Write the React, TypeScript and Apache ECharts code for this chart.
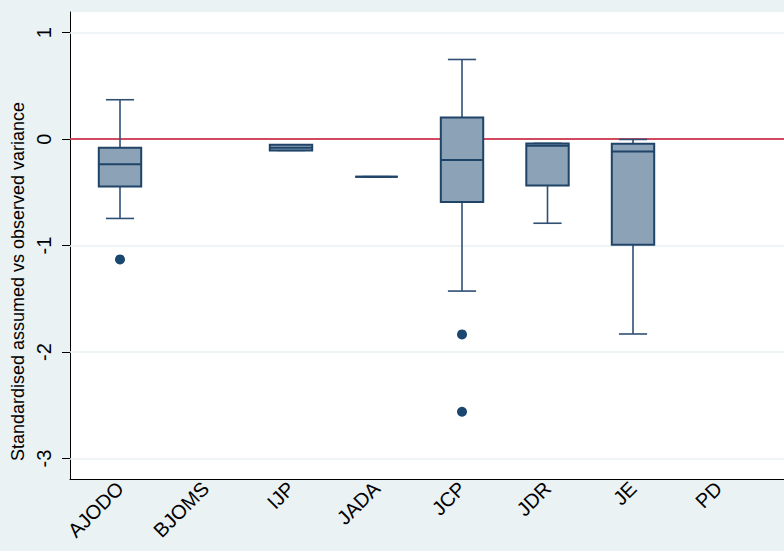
import React, { useEffect, useRef } from "react";
import * as echarts from "echarts";

const categories = ["AJODO", "BJOMS", "IJP", "JADA", "JCP", "JDR", "JE", "PD"];
const whiskerLow = [-0.745, null, -0.106, -0.353, -1.427, -0.79, -1.83, null];
const quartile1 = [-0.444, null, -0.106, -0.353, -0.59, -0.435, -0.992, null];
const medians = [-0.235, null, -0.08, -0.353, -0.197, -0.062, -0.115, null];
const quartile3 = [-0.081, null, -0.053, -0.353, 0.204, -0.04, -0.043, null];
const whiskerHigh = [0.37, null, -0.053, -0.353, 0.748, -0.04, -0.003, null];
const outlierCategory = ["AJODO", "JCP", "JCP"];
const outlierValue = [-1.13, -1.834, -2.56];
const yTicks = [-3, -2, -1, 0, 1];
const referenceLine = 0;
const yTitle = "Standardised assumed vs observed variance";

const NAVY = "#1a476f";
const FONT = "Liberation Sans, Arial, sans-serif";

export default function App() {
  const ref = useRef<HTMLDivElement>(null);
  useEffect(() => {
    if (!ref.current) return;
    const chart = echarts.init(ref.current, undefined, { renderer: "svg" });
    const boxData: number[][] = [];
    categories.forEach((_, i) => {
      if (medians[i] === null) return;
      boxData.push([
        i,
        whiskerLow[i] as number,
        quartile1[i] as number,
        medians[i] as number,
        quartile3[i] as number,
        whiskerHigh[i] as number,
      ]);
    });
    const outlierData = outlierCategory.map((c, k) => [categories.indexOf(c), outlierValue[k]]);

    chart.setOption({
      animation: false,
      backgroundColor: "#eaf2f3",
      grid: {
        left: 70,
        right: 0,
        top: 12,
        bottom: 72,
        show: true,
        backgroundColor: "#ffffff",
        borderWidth: 0,
        containLabel: false,
        outerBoundsMode: "none",
      },
      graphic: [
        {
          type: "text",
          x: 18,
          y: 281.5,
          rotation: Math.PI / 2,
          style: {
            text: yTitle,
            fill: "#000",
            font: `18px ${FONT}`,
            textAlign: "center",
            textVerticalAlign: "middle",
          },
        },
      ],
      xAxis: {
        type: "value",
        min: -0.5848,
        max: 7.766,
        axisLine: { show: true, onZero: false, lineStyle: { color: "#000", width: 1 } },
        axisTick: { show: false },
        splitLine: { show: false },
        axisLabel: {
          customValues: categories.map((_, i) => i),
          formatter: (v: number) => categories[Math.round(v)] ?? "",
          rotate: 45,
          margin: 6,
          color: "#000",
          fontFamily: FONT,
          fontSize: 20,
        },
      },
      yAxis: {
        type: "value",
        min: -3.192,
        max: 1.194,
        axisLine: { show: true, onZero: false, lineStyle: { color: "#000", width: 1 } },
        axisTick: { show: true, length: 8, customValues: yTicks, lineStyle: { color: "#000" } },
        splitLine: { show: false },
        axisLabel: {
          customValues: yTicks,
          rotate: 90,
          margin: 16,
          color: "#000",
          fontFamily: FONT,
          fontSize: 20,
        },
      },
      series: [
        {
          type: "scatter",
          z: 1,
          data: [],
          silent: true,
          markLine: {
            silent: true,
            symbol: "none",
            label: { show: false },
            lineStyle: { color: "#eaf2f3", width: 1.5, type: "solid" },
            data: yTicks.map((t) => ({ yAxis: t })),
          },
        },
        {
          type: "scatter",
          z: 2,
          data: [],
          silent: true,
          markLine: {
            silent: true,
            symbol: "none",
            label: { show: false },
            lineStyle: { color: "#c8102e", width: 1.5, type: "solid" },
            data: [{ yAxis: referenceLine }],
          },
        },
        {
          type: "custom",
          z: 5,
          data: boxData,
          encode: { x: 0, y: [1, 2, 3, 4, 5] },
          renderItem: (params: any, api: any) => {
            const x = api.value(0);
            const lo = api.coord([x, api.value(1)]);
            const q1 = api.coord([x, api.value(2)]);
            const md = api.coord([x, api.value(3)]);
            const q3 = api.coord([x, api.value(4)]);
            const hi = api.coord([x, api.value(5)]);
            const band = api.size([1, 0])[0];
            const hw = band * 0.248;
            const cw = band * 0.165;
            const cx = lo[0];
            const whiskerStyle = { stroke: "#2f4f73", lineWidth: 1.6 };
            const boxStyle = { stroke: "#1f4468", lineWidth: 2, fill: "#8ca3b7" };
            return {
              type: "group",
              children: [
                { type: "line", shape: { x1: cx, y1: hi[1], x2: cx, y2: q3[1] }, style: whiskerStyle },
                { type: "line", shape: { x1: cx, y1: q1[1], x2: cx, y2: lo[1] }, style: whiskerStyle },
                { type: "line", shape: { x1: cx - cw, y1: hi[1], x2: cx + cw, y2: hi[1] }, style: whiskerStyle },
                { type: "line", shape: { x1: cx - cw, y1: lo[1], x2: cx + cw, y2: lo[1] }, style: whiskerStyle },
                {
                  type: "rect",
                  shape: { x: cx - hw, y: q3[1], width: hw * 2, height: q1[1] - q3[1] },
                  style: boxStyle,
                },
                { type: "line", shape: { x1: cx - hw, y1: md[1], x2: cx + hw, y2: md[1] }, style: { stroke: "#1f4468", lineWidth: 2 } },
              ],
            };
          },
        },
        {
          type: "scatter",
          z: 6,
          symbol: "circle",
          symbolSize: 10,
          itemStyle: { color: NAVY, opacity: 1 },
          data: outlierData,
        },
      ],
    });
    return () => chart.dispose();
  }, []);
  return <div ref={ref} style={{ width: 784, height: 551, position: "absolute", left: 0, top: 0 }} />;
}
